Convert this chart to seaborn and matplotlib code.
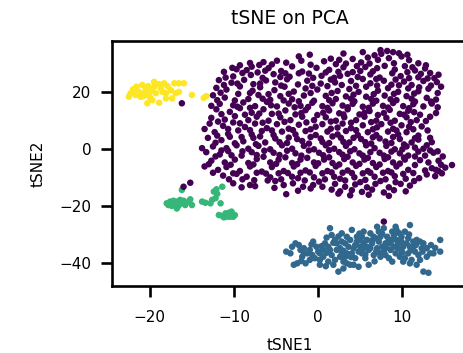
import matplotlib
matplotlib.use("Agg")
import matplotlib.pyplot as plt
import seaborn as sns
import pandas as pd

sns.set_style("ticks")
plt.rcParams['font.family'] = ['DejaVu Sans']
plt.rcParams['text.color'] = 'black'
plt.rcParams['axes.labelcolor'] = 'black'
plt.rcParams['xtick.color'] = 'black'
plt.rcParams['ytick.color'] = 'black'
plt.rcParams['axes.edgecolor'] = 'black'

# ---- data (tSNE coordinates) ----
purple = [
    (8.2,34.3),(8.9,33.9),(9.6,33.5),(7.5,33.3),(6.7,32.8),(9.9,32.4),(5.9,32.0),(8.4,31.8),(4.1,31.5),(2.5,31.2),
    (-2.3,32.4),(-4.9,30.9),(-6.5,30.4),(-5.5,29.6),(-8.1,30.1),(-9.3,29.3),(0.7,30.7),(5.1,30.3),(10.8,31.1),(11.9,30.0),
    (7.1,31.2),(3.3,29.9),(-0.9,29.5),(2.1,29.7),(-10.2,28.4),
    (-11.2,27.0),(-9.7,27.9),(-8.5,27.6),(-7.2,26.8),(-5.9,28.3),(-4.4,27.3),(-3.1,28.9),(-1.9,27.1),(-0.2,28.4),(1.3,27.7),
    (3.0,28.6),(4.1,26.9),(5.6,28.7),(6.5,27.2),(7.9,29.1),(9.1,27.8),(10.3,29.0),(11.5,27.5),(12.7,28.2),(13.3,26.6),
    (-10.1,25.4),(-8.0,25.9),(-6.6,24.9),(-5.3,26.2),(-3.4,25.3),(-2.3,26.5),(0.4,25.6),(1.9,24.9),(3.5,26.3),(4.7,25.2),
    (6.2,26.1),(7.3,25.0),(8.8,26.5),(9.8,25.5),(11.9,25.1),(13.8,24.8),(-7.9,28.8),(5.0,27.3),
    (-11.8,24.1),(-10.3,23.2),(-8.8,24.2),(-7.7,22.7),(-6.2,24.0),(-5.1,23.3),(-3.7,24.4),(-2.4,22.6),(-1.3,23.9),(0.3,22.9),
    (1.5,24.3),(2.8,22.4),(3.9,23.8),(5.3,24.5),(6.2,23.0),(7.8,23.9),(8.7,22.5),(10.2,23.6),(11.1,22.4),(12.5,23.8),
    (13.4,22.2),(14.1,23.4),(-12.1,21.4),(-10.9,20.8),(-9.3,21.9),(-7.8,20.4),(-6.9,21.6),(-5.2,20.6),(-4.0,21.8),(-2.9,20.1),
    (-1.5,21.2),(-0.1,20.8),(1.1,22.0),(2.3,20.3),(3.7,21.0),(4.8,20.0),(5.7,21.8),(7.1,20.4),(8.3,21.3),(9.5,20.0),
    (10.7,21.2),(11.9,20.2),(13.1,21.1),
    (-12.5,18.8),(-11.1,18.0),(-9.5,19.3),(-8.3,17.5),(-7.1,18.9),(-5.7,17.2),(-4.5,18.5),(-3.1,17.4),(-1.7,18.7),(-0.5,16.9),
    (0.9,18.6),(2.1,17.5),(3.3,18.4),(4.3,16.7),(5.7,18.3),(6.9,16.9),(7.9,18.7),(9.3,17.1),(10.5,18.5),(11.5,16.6),
    (12.9,17.9),(14.0,17.3),(-11.7,15.8),(-10.1,15.3),(-8.9,16.3),(-7.5,15.0),(-6.1,16.5),(-4.9,14.9),(-3.5,15.9),(-2.1,15.1),
    (-0.7,16.2),(0.5,15.0),(1.7,16.0),(2.9,15.2),(4.1,15.8),(5.3,14.8),(6.5,15.9),(7.7,15.1),(8.9,16.1),(10.1,15.0),
    (11.3,15.7),(12.5,14.9),(13.5,15.9),
    (-12.1,13.9),(-10.5,13.0),(-9.3,14.3),(-7.9,12.7),(-6.5,13.9),(-5.5,12.3),(-3.9,13.5),(-2.7,12.1),(-1.5,13.6),(-0.1,11.9),
    (1.3,13.5),(2.5,12.5),(3.5,13.9),(4.9,12.1),(6.1,13.3),(7.1,11.9),(8.5,13.7),(9.7,12.3),(10.7,13.4),(12.1,12.0),
    (13.3,11.3),(-12.7,10.9),(-11.1,10.3),(-9.9,11.5),(-8.3,10.1),(-7.3,11.3),(-5.9,9.9),(-4.5,11.1),(-3.3,10.1),(-1.9,11.3),
    (-0.5,10.1),(0.9,11.1),(2.1,9.9),(3.1,11.1),(4.5,10.1),(5.5,11.3),(6.9,9.9),(8.1,10.9),(9.1,9.9),(10.5,11.1),(11.7,10.1),
    (-12.9,8.9),(-11.3,8.1),(-10.1,9.3),(-8.7,7.7),(-7.5,8.9),(-6.1,7.3),(-4.9,8.7),(-3.5,7.1),(-2.3,8.5),(-0.9,6.9),
    (0.5,8.7),(1.5,7.1),(2.9,8.9),(3.9,7.3),(5.3,8.3),(6.5,6.9),(7.5,8.7),(8.9,7.1),(9.9,8.3),(11.3,6.9),(12.3,7.9),
    (-12.3,5.9),(-10.7,5.3),(-9.5,6.5),(-7.9,5.1),(-6.7,6.3),(-5.3,4.9),(-4.3,6.1),(-2.7,5.1),(-1.5,6.3),(-0.3,4.9),
    (1.1,6.1),(2.3,5.1),(3.3,6.3),(4.7,4.9),(5.9,5.9),(6.9,4.9),(8.3,6.1),(9.5,5.1),(10.5,5.9),(11.9,4.7),
    (-13.1,3.9),(-11.5,3.1),(-10.5,4.3),(-8.9,2.7),(-7.7,3.9),(-6.3,2.3),(-5.1,3.7),(-3.7,2.1),(-2.5,3.5),(-1.1,1.9),
    (0.3,3.7),(1.3,2.1),(2.7,3.9),(3.7,2.3),(5.1,3.5),(6.3,1.9),(7.3,3.7),(8.7,2.1),(9.7,3.5),(11.1,2.3),(11.9,3.3),(12.9,1.3),
    (-12.5,0.9),(-10.9,0.3),(-9.7,1.3),(-8.3,0.1),(-7.1,1.1),(-5.7,-0.1),(-4.3,1.3),(-3.1,0.1),(-1.7,1.1),(-0.5,-0.1),
    (0.9,1.3),(1.9,0.1),(3.3,1.1),(4.3,-0.1),(5.7,1.3),(6.7,0.3),(8.1,1.1),(9.1,-0.1),(10.5,0.9),(11.5,0.5),(12.5,0.1),(13.3,-0.5),
    (-13.3,-1.1),(-11.7,-1.9),(-10.7,-0.7),(-9.1,-2.3),(-7.9,-1.1),(-6.5,-2.7),(-5.3,-1.3),(-3.9,-2.9),(-2.7,-1.5),(-1.3,-3.1),
    (0.1,-1.3),(1.3,-2.9),(2.5,-1.1),(3.5,-2.7),(4.9,-1.5),(5.9,-3.1),(7.3,-1.3),(8.3,-2.9),(9.7,-1.5),(10.7,-2.3),
    (11.9,-0.9),(12.7,-2.3),(13.7,-1.3),(-12.7,-4.1),(-11.1,-4.7),(-9.9,-3.7),(-8.3,-4.9),(-7.3,-3.5),(-5.7,-4.7),(-4.7,-3.7),
    (-3.1,-4.9),(-2.1,-3.7),(-0.5,-4.7),(0.7,-3.7),(1.7,-4.9),(3.1,-3.5),(4.1,-4.7),(5.5,-3.7),(6.5,-4.9),(7.9,-3.5),
    (8.9,-4.7),(10.3,-3.7),(12.1,-3.9),(13.1,-4.7),(14.3,-4.1),
    (-13.5,-6.1),(-11.9,-7.3),(-10.9,-6.3),(-9.3,-7.7),(-8.1,-6.1),(-6.7,-7.9),(-5.5,-6.3),(-4.1,-7.7),(-2.9,-6.1),(-1.5,-7.5),
    (-0.3,-5.9),(1.1,-7.7),(2.1,-6.1),(3.5,-7.5),(4.5,-5.9),(5.9,-7.7),(6.9,-6.3),(8.3,-7.7),(9.3,-6.1),(10.7,-7.3),
    (12.7,-7.5),(13.5,-6.7),(14.3,-7.7),(15.1,-6.5),(15.9,-5.6),(-11.3,-9.3),(-10.1,-8.5),(-8.5,-9.7),(-7.3,-8.3),(-5.7,-9.9),
    (-4.7,-8.5),(-3.1,-9.7),(-2.1,-8.3),(-0.5,-9.9),(0.5,-8.5),(1.9,-9.7),(2.9,-8.3),(4.3,-9.9),(5.3,-8.5),(6.7,-9.7),
    (7.7,-8.3),(9.1,-9.5),(10.1,-8.7),(12.9,-8.9),(13.9,-9.5),(14.7,-8.5),
    (-16.0,-13.2),(-15.2,-11.8),(-10.1,-12.0),(-8.1,-12.6),(-7.5,-13.0),(-9.0,-10.6),(-6.0,-11.0),(-4.4,-10.6),(-3.0,-12.0),
    (-1.6,-11.0),(-0.6,-12.6),(0.8,-10.6),(2.0,-12.2),(3.2,-11.0),(4.4,-12.4),(5.6,-10.8),(6.8,-12.2),(8.0,-10.6),(9.2,-11.6),
    (10.4,-10.4),(11.4,-11.2),(-0.9,-13.8),(1.6,-14.2),(2.6,-14.8),(4.0,-14.4),(5.2,-15.0),(6.4,-14.2),(7.8,-15.2),(9.0,-14.4),
    (10.4,-14.8),(-5.2,-13.6),(-2.4,-14.6),(2.4,-15.6),(3.8,-16.2),(6.0,-16.0),(8.4,-16.4),(-3.8,-15.8),
    (-16.2,16.0),(7.8,-25.4),
]

purple_extra = [
    (3.0,33.4),(5.3,33.9),(-1.0,33.0),(10.6,33.0),(7.4,34.6),
    (-7.0,29.4),(-3.8,30.2),(-2.0,30.9),(1.5,31.6),(4.6,29.0),(6.1,29.9),(9.0,30.0),(12.8,29.3),(11.2,28.6),
    (-9.0,26.6),(-6.3,27.4),(-3.9,26.5),(-1.1,26.4),(0.9,26.8),(2.4,27.0),(7.0,28.3),(10.6,26.9),(12.2,26.3),(14.3,26.0),
    (-11.0,25.0),(-4.5,25.2),(-0.6,24.9),(2.6,25.6),(6.9,24.5),(9.2,24.3),(10.8,24.8),(13.0,24.7),
    (-11.2,22.4),(-9.6,22.9),(-6.9,22.9),(-4.4,22.2),(-0.7,22.1),(2.0,23.3),(4.5,22.1),(7.0,22.2),(9.6,22.3),(12.0,21.6),(14.6,21.8),
    (-11.6,19.7),(-8.1,19.6),(-5.9,19.2),(-3.5,19.3),(-0.9,19.6),(1.6,19.6),(4.2,19.0),(6.6,19.2),(9.0,19.3),(11.4,19.4),(14.2,19.6),
    (-12.0,17.1),(-9.9,17.0),(-6.6,17.6),(-4.1,17.0),(-2.3,16.7),(1.3,17.1),(3.9,17.6),(6.3,17.5),(8.6,17.4),(11.1,17.6),(13.4,16.6),
    (-12.7,15.1),(-9.6,14.8),(-8.1,14.4),(-5.6,15.3),(-2.8,14.6),(-1.2,14.7),(1.1,14.4),(3.5,14.6),(6.0,14.4),(8.3,14.5),(10.8,14.3),(14.2,14.6),
    (-11.5,12.2),(-8.7,12.0),(-7.0,12.4),(-4.7,12.4),(-2.0,12.6),(0.6,12.7),(3.0,12.1),(5.5,12.7),(7.8,12.6),(10.2,12.0),(11.4,12.9),(14.0,12.6),
    (-11.9,9.6),(-9.3,9.0),(-6.6,9.2),(-4.0,9.5),(-1.4,9.3),(1.5,9.6),(3.9,9.2),(6.3,9.4),(8.6,9.2),(11.0,9.4),(12.8,9.8),
    (-13.5,7.0),(-10.7,7.0),(-8.1,6.6),(-5.5,6.5),(-3.0,6.6),(-0.3,7.8),(2.3,7.5),(4.5,6.6),(7.0,7.6),(9.3,6.5),(10.8,7.8),(13.0,6.5),
    (-12.0,4.7),(-9.1,4.2),(-6.9,4.4),(-3.5,4.0),(-0.9,4.2),(1.7,4.4),(4.2,3.9),(6.5,4.1),(8.9,4.2),(11.5,3.8),(13.3,3.9),
    (-12.2,2.2),(-9.9,2.0),(-7.4,1.7),(-4.6,2.4),(-1.9,2.8),(0.5,2.5),(3.0,2.5),(5.6,2.4),(8.0,2.6),(10.2,1.6),(13.5,2.4),
    (-13.8,0.3),(-11.5,-0.5),(-9.0,-0.8),(-6.4,-0.6),(-3.7,-0.6),(-1.1,-0.5),(1.3,-0.4),(3.8,-0.8),(6.2,-1.1),(8.7,-0.9),(10.0,-0.1),(14.2,-0.8),
    (-12.2,-2.6),(-10.3,-2.2),(-7.3,-2.1),(-4.6,-2.1),(-2.0,-2.3),(0.6,-2.2),(2.9,-2.0),(5.3,-2.3),(7.8,-2.3),(10.2,-3.0),(11.5,-2.6),(14.8,-2.6),
    (-13.0,-5.3),(-10.4,-5.5),(-7.7,-5.4),(-5.0,-5.2),(-2.5,-5.3),(0.0,-5.0),(2.5,-5.4),(4.9,-5.2),(7.3,-5.4),(9.7,-5.1),(11.5,-5.6),(14.6,-5.5),
    (-12.5,-8.3),(-9.7,-8.7),(-6.2,-8.6),(-3.6,-8.4),(-1.0,-8.2),(1.6,-8.2),(4.0,-8.4),(6.2,-8.3),(8.7,-8.2),(11.3,-8.4),(14.0,-7.3),
    (-10.6,-10.6),(-7.6,-10.9),(-5.1,-11.2),(-2.4,-10.2),(0.1,-11.4),(2.6,-10.4),(5.0,-11.6),(7.4,-11.2),(9.8,-12.2),(12.0,-10.2),
    (-9.1,-13.4),(-4.1,-12.6),(-1.8,-13.2),(0.5,-13.2),(3.2,-13.2),(5.8,-13.4),(8.4,-13.4),(10.9,-12.8),
]

blue = [
    (-3.8,-35.9),(-3.1,-34.2),(-2.7,-33.0),(-2.1,-35.3),(-1.7,-34.7),(-1.3,-36.5),(-2.5,-40.0),(-2.9,-40.5),(-1.5,-40.0),
    (-0.6,-32.4),(-0.2,-34.2),(0.2,-36.5),(0.6,-35.3),(1.2,-34.2),(1.4,-27.7),(1.6,-30.1),(2.0,-31.8),(2.2,-35.3),(2.6,-37.7),
    (1.2,-39.4),(1.8,-40.5),(2.4,-42.9),(2.8,-29.5),(3.2,-33.0),(3.4,-36.5),(3.8,-31.8),(4.0,-28.3),(4.2,-34.7),(4.4,-38.2),
    (4.6,-30.7),(5.0,-34.2),(5.2,-36.5),(5.4,-28.9),(5.8,-31.8),(6.0,-35.3),(6.2,-29.5),(6.4,-33.0),(6.8,-31.2),(7.0,-34.7),
    (7.2,-28.9),(7.4,-37.7),(7.8,-27.7),(8.0,-33.0),(8.2,-30.7),(8.6,-35.3),(8.8,-28.9),(9.2,-27.2),(9.3,-31.8),(9.5,-34.7),
    (9.7,-37.7),(9.9,-30.7),(10.3,-28.9),(10.5,-33.0),(10.7,-36.5),(10.9,-26.6),(11.1,-38.8),(11.3,-34.2),(11.7,-31.8),
    (11.9,-37.1),(12.3,-34.7),(12.5,-33.0),(12.9,-37.7),(13.3,-36.5),(13.7,-36.5),(12.5,-42.9),(13.1,-43.3),(14.5,-31.8),
    (14.5,-35.9),(6.0,-40.5),(3.8,-40.5),(3.4,-40.0),(4.8,-41.2),(0.2,-40.5),(-1.0,-38.8),(2.2,-33.0),(-0.4,-38.2),(0.8,-33.0),
    (4.2,-40.5),(7.0,-27.2),(9.3,-28.3),(8.4,-38.2),(10.1,-39.4),(11.7,-40.5),(-1.0,-35.3),(-3.3,-36.5),(-1.9,-37.7),
    (3.0,-39.4),(4.6,-32.4),(6.6,-37.1),(7.6,-34.2),(9.0,-34.2),(9.9,-35.9),(10.9,-34.2),(12.1,-38.8),(10.3,-38.2),(5.6,-38.2),
    (1.6,-37.1),(2.6,-34.7),(3.6,-34.2),(4.8,-35.9),(5.4,-33.0),(6.2,-34.7),(7.2,-32.4),(7.8,-35.9),(8.4,-31.8),(9.0,-30.1),
    (9.5,-33.0),(10.1,-34.2),(10.7,-31.2),(11.5,-35.9),(12.1,-32.4),(3.4,-30.7),(5.0,-31.8),(4.0,-36.5),(5.8,-34.2),
    (6.6,-30.7),(7.4,-30.7),(8.6,-33.0),(9.2,-36.5),(0.6,-37.7),(0.0,-35.9),(-0.7,-37.1),(-1.7,-36.5),(-2.3,-33.6),(2.8,-36.5),
    (2.0,-38.8),(4.4,-33.6),(8.0,-37.1),(8.8,-39.4),(10.9,-40.0),(12.9,-34.7),(11.3,-32.4),(5.2,-30.7),(2.8,-32.4),(0.2,-38.8),
    (1.4,-35.3),(9.9,-32.4),
    (1.0,-31.0),(2.4,-30.6),(3.0,-35.6),(3.9,-37.8),(4.9,-29.6),(5.6,-36.9),(6.4,-32.0),(6.9,-35.9),(7.6,-29.6),(8.1,-34.5),
    (8.9,-31.6),(9.6,-29.4),(10.0,-36.2),(10.8,-29.9),(11.6,-33.6),(12.4,-35.9),(13.4,-33.6),(-0.8,-33.4),(0.4,-34.0),(1.8,-32.8),
    (-2.0,-39.2),(0.9,-41.0),(3.0,-41.8),(6.7,-39.3),(13.9,-34.6),(11.0,-35.3),(7.3,-36.4),(5.3,-35.0),(3.2,-37.8),(1.0,-36.3),
]

green = [
    (-18.0,-19.0),(-17.6,-18.4),(-17.2,-18.1),(-16.8,-18.4),(-16.4,-17.8),(-17.0,-19.6),(-16.6,-19.9),(-16.2,-19.0),
    (-15.8,-19.6),(-17.4,-19.9),(-17.8,-19.6),(-15.4,-18.4),(-15.0,-19.6),(-15.2,-17.6),(-16.0,-18.1),(-16.8,-20.8),
    (-13.8,-18.4),(-13.4,-18.8),(-12.8,-19.0),(-12.6,-17.8),(-12.2,-17.2),(-11.6,-19.0),(-12.0,-15.7),(-12.4,-14.9),
    (-12.1,-14.1),(-11.4,-13.2),(-16.2,-14.3),(-11.8,-23.1),(-11.4,-23.4),(-11.0,-22.5),(-10.6,-22.3),(-10.3,-21.9),
    (-9.9,-23.1),(-10.5,-23.7),(-11.2,-23.9),(-10.1,-23.7),(-10.9,-23.7),
]

yellow = [
    (-22.3,19.5),(-22.0,20.9),(-21.6,21.8),(-21.3,20.0),(-20.9,22.4),(-20.5,21.2),(-20.7,19.5),(-20.2,22.0),(-19.8,20.4),
    (-20.1,18.5),(-19.5,21.8),(-18.9,22.7),(-19.3,19.5),(-18.5,20.0),(-17.9,22.0),(-18.1,19.5),(-17.5,20.6),(-17.1,23.0),
    (-16.55,23.0),(-15.96,23.0),(-16.95,19.5),(-17.35,17.7),(-18.1,17.7),(-18.9,16.2),(-20.3,16.0),(-21.1,18.3),(-21.7,18.9),
    (-19.9,17.7),(-19.5,23.5),(-20.5,20.0),(-20.8,18.5),(-18.7,21.2),(-18.3,23.0),(-16.55,20.0),(-15.0,18.9),(-13.3,18.5),
    (-13.6,17.9),(-22.5,18.3),(-21.9,20.0),(-19.7,17.1),
]

cluster_labels = [1, 2, 3, 0, 0]          # draw order: blue, green, yellow, purple
cluster_points = [blue, green, yellow, purple, purple_extra]
palette = {0: "#440154", 1: "#31688e", 2: "#35b779", 3: "#fde725"}

xticks = [-20, -10, 0, 10]
yticks = [20, 0, -20, -40]

rows = []
for lab, pts in zip(cluster_labels, cluster_points):
    for x, y in pts:
        rows.append({"tSNE1": x, "tSNE2": y, "cluster": lab})
df = pd.DataFrame(rows)

fig = plt.figure(figsize=(4.64, 3.53), dpi=100)
ax = fig.add_axes([0.2414, 0.1884, 0.7672, 0.6955])
sns.scatterplot(data=df, x="tSNE1", y="tSNE2", hue="cluster", palette=palette,
                s=22, linewidth=0, legend=False, ax=ax)

ax.set_xlim(-24.5, 17.8)
ax.set_ylim(-48.1, 37.8)
ax.set_xticks(xticks)
ax.set_yticks(yticks)
for sp in ax.spines.values():
    sp.set_visible(True)
    sp.set_linewidth(1.9)
    sp.set_color("black")
ax.tick_params(axis="both", which="major", bottom=True, left=True,
               length=8, width=1.9, labelsize=11, color="black")
ax.tick_params(axis="x", pad=9)
ax.tick_params(axis="y", pad=7)
ax.set_xlabel("tSNE1", fontsize=11, labelpad=9)
ax.set_ylabel("tSNE2", fontsize=11, labelpad=10)
ax.set_title("tSNE on PCA", fontsize=13.5, pad=12.5)

fig.savefig("out.png", dpi=100)
